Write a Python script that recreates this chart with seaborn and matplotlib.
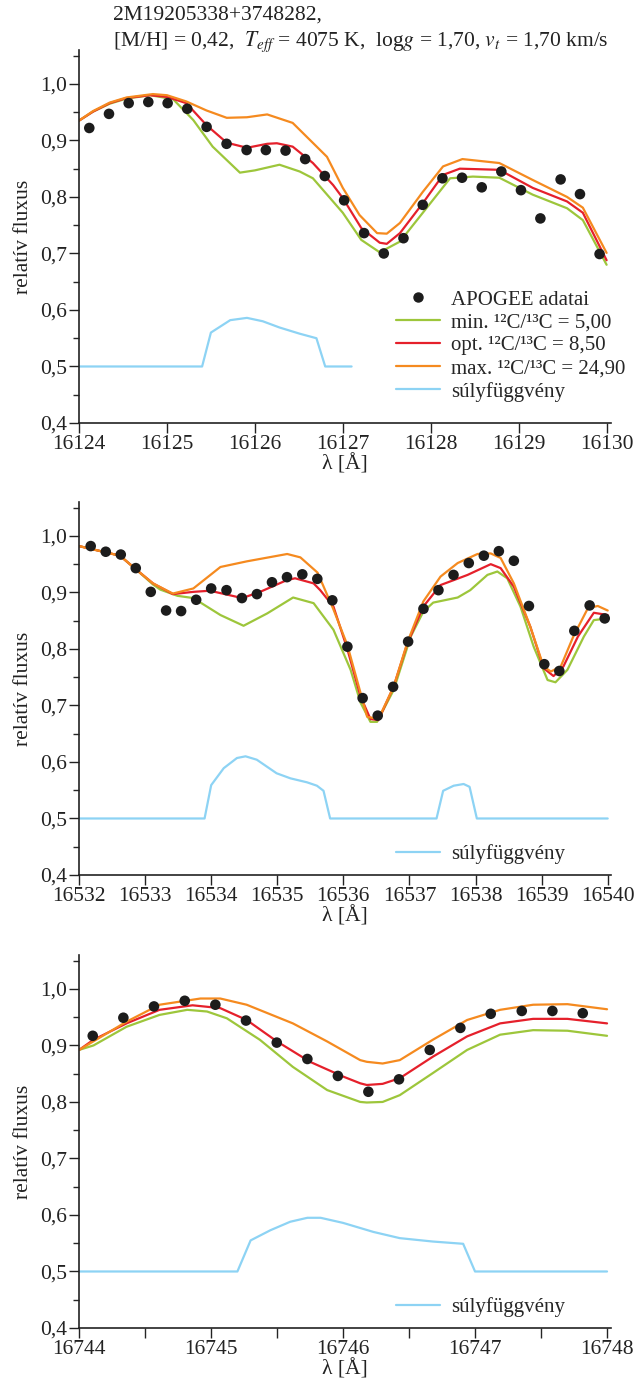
import numpy as np
import pandas as pd
import matplotlib
matplotlib.use("Agg")
import matplotlib.pyplot as plt
import seaborn as sns
from matplotlib.ticker import MultipleLocator, FuncFormatter, FixedLocator
from matplotlib.lines import Line2D

sns.set_style("ticks")
plt.rcParams['font.family'] = ['Liberation Serif', 'DejaVu Serif']
plt.rcParams['mathtext.fontset'] = 'stix'

# ---------------- Panel 1 ----------------
p1_obs_wl = [16124.117, 16124.341, 16124.565, 16124.788, 16125.008, 16125.231, 16125.451,
             16125.678, 16125.906, 16126.125, 16126.349, 16126.572, 16126.795, 16127.015,
             16127.242, 16127.466, 16127.690, 16127.909, 16128.133, 16128.356, 16128.580,
             16128.803, 16129.026, 16129.247, 16129.477, 16129.697, 16129.920]
p1_obs_fl = [0.922, 0.947, 0.966, 0.968, 0.966, 0.956, 0.924,
             0.894, 0.883, 0.883, 0.882, 0.867, 0.837, 0.794,
             0.736, 0.700, 0.727, 0.786, 0.833, 0.834, 0.817,
             0.845, 0.812, 0.762, 0.831, 0.805, 0.699]

p1_min_wl = [16124.00, 16124.16, 16124.35, 16124.54, 16124.81, 16125.07, 16125.30, 16125.52,
             16125.83, 16126.00, 16126.28, 16126.51, 16126.66, 16127.00, 16127.21, 16127.42,
             16127.65, 16127.91, 16128.22, 16128.48, 16128.78, 16129.16, 16129.55, 16129.73, 16130.00]
p1_min_fl = [0.935, 0.951, 0.965, 0.974, 0.980, 0.973, 0.936, 0.889,
             0.843, 0.847, 0.857, 0.845, 0.833, 0.772, 0.724, 0.702,
             0.721, 0.772, 0.833, 0.836, 0.834, 0.804, 0.780, 0.759, 0.680]

p1_opt_wl = [16124.00, 16124.16, 16124.35, 16124.54, 16124.81, 16125.00, 16125.22, 16125.45,
             16125.68, 16125.91, 16126.14, 16126.25, 16126.43, 16126.66, 16126.89, 16127.00,
             16127.21, 16127.42, 16127.50, 16127.65, 16127.91, 16128.14, 16128.33, 16128.78,
             16129.16, 16129.55, 16129.73, 16130.00]
p1_opt_fl = [0.935, 0.951, 0.966, 0.975, 0.980, 0.977, 0.966, 0.927,
             0.896, 0.887, 0.894, 0.895, 0.889, 0.860, 0.821, 0.798,
             0.745, 0.719, 0.717, 0.736, 0.789, 0.839, 0.850, 0.848,
             0.816, 0.792, 0.772, 0.688]

p1_max_wl = [16124.00, 16124.16, 16124.35, 16124.54, 16124.84, 16125.00, 16125.22, 16125.45,
             16125.68, 16125.91, 16126.14, 16126.43, 16126.82, 16127.00, 16127.19, 16127.39,
             16127.50, 16127.65, 16127.91, 16128.14, 16128.36, 16128.78, 16129.16, 16129.55,
             16129.73, 16130.00]
p1_max_fl = [0.935, 0.952, 0.967, 0.976, 0.982, 0.980, 0.969, 0.953,
             0.940, 0.941, 0.946, 0.931, 0.871, 0.816, 0.768, 0.736,
             0.735, 0.754, 0.809, 0.854, 0.867, 0.860, 0.830, 0.800,
             0.781, 0.701]

p1_w_wl = [16124.00, 16125.40, 16125.50, 16125.72, 16125.91, 16126.09, 16126.28, 16126.51,
           16126.70, 16126.80, 16127.10]
p1_w_fl = [0.500, 0.500, 0.560, 0.582, 0.586, 0.580, 0.569, 0.558, 0.550, 0.500, 0.500]

# ---------------- Panel 2 ----------------
p2_obs_wl = [16532.177, 16532.405, 16532.632, 16532.859, 16533.086, 16533.318, 16533.545,
             16533.773, 16534.000, 16534.232, 16534.465, 16534.692, 16534.920, 16535.147,
             16535.379, 16535.606, 16535.833, 16536.061, 16536.292, 16536.520, 16536.753,
             16536.980, 16537.212, 16537.439, 16537.667, 16537.898, 16538.126, 16538.353,
             16538.580, 16538.808, 16539.041, 16539.268, 16539.495, 16539.727, 16539.955]
p2_obs_fl = [0.982, 0.972, 0.967, 0.943, 0.901, 0.868, 0.867,
             0.887, 0.907, 0.904, 0.890, 0.897, 0.918, 0.927,
             0.932, 0.924, 0.886, 0.804, 0.713, 0.682, 0.733,
             0.813, 0.871, 0.904, 0.931, 0.952, 0.965, 0.973,
             0.956, 0.876, 0.773, 0.761, 0.832, 0.877, 0.854]

p2_min_wl = [16532.00, 16532.62, 16532.87, 16533.12, 16533.23, 16533.49, 16533.73, 16534.14,
             16534.49, 16534.85, 16535.24, 16535.55, 16535.85, 16536.11, 16536.26, 16536.41,
             16536.51, 16536.76, 16537.02, 16537.21, 16537.36, 16537.73, 16537.92, 16538.18,
             16538.33, 16538.48, 16538.68, 16538.88, 16539.09, 16539.21, 16539.39, 16539.64,
             16539.79, 16540.00]
p2_min_fl = [0.982, 0.965, 0.940, 0.914, 0.905, 0.894, 0.890, 0.860,
             0.841, 0.863, 0.891, 0.881, 0.834, 0.763, 0.705, 0.671,
             0.671, 0.727, 0.822, 0.866, 0.882, 0.891, 0.904, 0.931,
             0.937, 0.925, 0.875, 0.804, 0.745, 0.741, 0.763, 0.822,
             0.851, 0.854]

p2_opt_wl = [16532.00, 16532.62, 16532.87, 16533.12, 16533.42, 16533.73, 16533.98, 16534.47,
             16534.74, 16535.15, 16535.27, 16535.55, 16535.65, 16535.85, 16536.06, 16536.26,
             16536.41, 16536.53, 16536.76, 16536.97, 16537.21, 16537.47, 16537.88, 16538.23,
             16538.38, 16538.58, 16538.83, 16539.03, 16539.18, 16539.33, 16539.55, 16539.79,
             16540.00]
p2_opt_fl = [0.982, 0.965, 0.940, 0.916, 0.897, 0.901, 0.903, 0.890,
             0.901, 0.922, 0.925, 0.916, 0.904, 0.875, 0.800, 0.716,
             0.676, 0.674, 0.733, 0.810, 0.875, 0.913, 0.931, 0.950,
             0.943, 0.910, 0.839, 0.766, 0.752, 0.769, 0.822, 0.864,
             0.860]

p2_max_wl = [16532.00, 16532.62, 16532.87, 16533.12, 16533.42, 16533.73, 16534.14, 16534.54,
             16535.15, 16535.35, 16535.61, 16535.85, 16536.06, 16536.36, 16536.53, 16536.76,
             16536.97, 16537.21, 16537.47, 16537.73, 16538.03, 16538.23, 16538.38, 16538.58,
             16538.83, 16539.03, 16539.14, 16539.29, 16539.48, 16539.70, 16539.85, 16540.00]
p2_max_fl = [0.982, 0.965, 0.940, 0.916, 0.898, 0.907, 0.945, 0.955,
             0.968, 0.962, 0.935, 0.870, 0.807, 0.680, 0.676, 0.733,
             0.812, 0.884, 0.928, 0.952, 0.968, 0.969, 0.961, 0.916,
             0.839, 0.769, 0.760, 0.769, 0.822, 0.872, 0.876, 0.868]

p2_w_wl = [16532.00, 16533.90, 16534.00, 16534.19, 16534.39, 16534.52, 16534.69, 16534.99,
           16535.20, 16535.45, 16535.60, 16535.70, 16535.80, 16537.41, 16537.51, 16537.67,
           16537.82, 16537.91, 16538.02, 16540.00]
p2_w_fl = [0.500, 0.500, 0.559, 0.589, 0.607, 0.610, 0.604, 0.580,
           0.571, 0.564, 0.558, 0.549, 0.500, 0.500, 0.549, 0.558,
           0.561, 0.556, 0.500, 0.500]

# ---------------- Panel 3 ----------------
p3_obs_wl = [16744.104, 16744.336, 16744.568, 16744.801, 16745.033, 16745.265, 16745.498,
             16745.730, 16745.961, 16746.192, 16746.424, 16746.657, 16746.889, 16747.119,
             16747.354, 16747.586, 16747.816]
p3_obs_fl = [0.917, 0.949, 0.969, 0.979, 0.972, 0.944, 0.905,
             0.876, 0.846, 0.818, 0.840, 0.892, 0.931, 0.956,
             0.961, 0.961, 0.957]

p3_min_wl = [16744.00, 16744.11, 16744.36, 16744.61, 16744.82, 16744.97, 16745.12, 16745.37,
             16745.62, 16745.88, 16746.13, 16746.18, 16746.30, 16746.43, 16746.68, 16746.94,
             16747.19, 16747.44, 16747.70, 16748.00]
p3_min_fl = [0.892, 0.900, 0.933, 0.954, 0.963, 0.960, 0.948, 0.910,
             0.862, 0.821, 0.800, 0.799, 0.800, 0.812, 0.851, 0.892,
             0.919, 0.927, 0.926, 0.917]

p3_opt_wl = [16744.00, 16744.11, 16744.36, 16744.61, 16744.86, 16745.07, 16745.27, 16745.50,
             16745.75, 16746.00, 16746.13, 16746.18, 16746.30, 16746.43, 16746.68, 16746.94,
             16747.19, 16747.44, 16747.70, 16748.00]
p3_opt_fl = [0.892, 0.910, 0.939, 0.963, 0.971, 0.966, 0.945, 0.907,
             0.871, 0.845, 0.833, 0.830, 0.832, 0.842, 0.880, 0.916,
             0.939, 0.947, 0.947, 0.939]

p3_max_wl = [16744.00, 16744.36, 16744.61, 16744.92, 16745.07, 16745.27, 16745.62, 16745.88,
             16746.13, 16746.18, 16746.30, 16746.43, 16746.68, 16746.94, 16747.19, 16747.44,
             16747.70, 16748.00]
p3_max_fl = [0.892, 0.942, 0.972, 0.983, 0.983, 0.972, 0.939, 0.907,
             0.874, 0.871, 0.868, 0.874, 0.910, 0.945, 0.963, 0.972,
             0.973, 0.964]

p3_w_wl = [16744.00, 16745.20, 16745.30, 16745.45, 16745.60, 16745.73, 16745.83, 16746.00,
           16746.23, 16746.43, 16746.68, 16746.91, 16747.00, 16748.00]
p3_w_fl = [0.500, 0.500, 0.555, 0.573, 0.588, 0.595, 0.595, 0.586,
           0.570, 0.559, 0.553, 0.549, 0.500, 0.500]

x_ranges = [(16124, 16130.05), (16532, 16540.05), (16744, 16748.03)]

title_line1 = "2M19205338+3748282,"
title_line2 = (r"[M/H] = 0,42,  $T_{eff}$ = 4075 K,  log$g$ = 1,70, "
               r"$v_t$ = 1,70 km/s")
lbl_obs = "APOGEE adatai"
lbl_min = "min. ¹²C/¹³C = 5,00"
lbl_opt = "opt. ¹²C/¹³C = 8,50"
lbl_max = "max. ¹²C/¹³C = 24,90"
lbl_w = "súlyfüggvény"
ylab = "relatív fluxus"
xlab = "λ [Å]"

C_GREEN = "#9DC63B"
C_RED = "#E5202B"
C_ORANGE = "#F58A1F"
C_BLUE = "#8DD3F4"
C_DOT = "#1c1c1c"
C_TXT = "#222222"

panels = [
    (p1_obs_wl, p1_obs_fl, p1_min_wl, p1_min_fl, p1_opt_wl, p1_opt_fl, p1_max_wl, p1_max_fl, p1_w_wl, p1_w_fl),
    (p2_obs_wl, p2_obs_fl, p2_min_wl, p2_min_fl, p2_opt_wl, p2_opt_fl, p2_max_wl, p2_max_fl, p2_w_wl, p2_w_fl),
    (p3_obs_wl, p3_obs_fl, p3_min_wl, p3_min_fl, p3_opt_wl, p3_opt_fl, p3_max_wl, p3_max_fl, p3_w_wl, p3_w_fl),
]

W, H = 637, 1386
fig = plt.figure(figsize=(W / 100, H / 100), dpi=100)
bottoms_px = [423, 875, 1328]
left_px, right_px = 79, 611
ax_h_px = 373

FS = 15.5
LFS = 15
for i, (ow, of, mw, mf, pw, pf, xw, xf, ww, wf) in enumerate(panels):
    b = bottoms_px[i]
    ax = fig.add_axes([left_px / W, 1 - b / H, (right_px - left_px) / W, ax_h_px / H])
    lw = 1.6
    sns.lineplot(x=ww, y=wf, ax=ax, color=C_BLUE, lw=lw, label=lbl_w if i > 0 else "_w", sort=False)
    sns.lineplot(x=mw, y=mf, ax=ax, color=C_GREEN, lw=lw, label="_min", sort=False)
    sns.lineplot(x=pw, y=pf, ax=ax, color=C_RED, lw=lw, label="_opt", sort=False)
    sns.lineplot(x=xw, y=xf, ax=ax, color=C_ORANGE, lw=lw, label="_max", sort=False)
    sns.scatterplot(x=ow, y=of, ax=ax, color=C_DOT, s=58, edgecolor="none", zorder=5, label="_obs")
    leg_x = (396 - left_px) / (right_px - left_px)
    if i == 0:
        handles = [
            Line2D([], [], ls="none", marker="o", color=C_DOT, markersize=6.5),
            Line2D([], [], color=C_GREEN, lw=lw),
            Line2D([], [], color=C_RED, lw=lw),
            Line2D([], [], color=C_ORANGE, lw=lw),
            Line2D([], [], color=C_BLUE, lw=lw),
        ]
        ax.legend(handles, [lbl_obs, lbl_min, lbl_opt, lbl_max, lbl_w],
                  loc="upper left", bbox_to_anchor=(leg_x, 1 - (290 - 50) / ax_h_px),
                  frameon=False, fontsize=LFS, handlelength=2.1, handletextpad=0.55,
                  labelspacing=0.16, borderaxespad=0, borderpad=0)
    else:
        ax.legend(loc="upper left",
                  bbox_to_anchor=(leg_x, 1 - (342 - 0) / ax_h_px),
                  frameon=False, fontsize=LFS, handlelength=2.1, handletextpad=0.55,
                  borderaxespad=0, borderpad=0)
    ax.set_xlim(*x_ranges[i])
    ax.set_ylim(0.4, 1.06)
    ax.yaxis.set_major_locator(FixedLocator([0.4, 0.5, 0.6, 0.7, 0.8, 0.9, 1.0]))
    ax.yaxis.set_minor_locator(MultipleLocator(0.05))
    ax.yaxis.set_major_formatter(FuncFormatter(lambda v, p: f"{v:.1f}".replace(".", ",")))
    lo = int(round(x_ranges[i][0]))
    hi = int(np.floor(x_ranges[i][1]))
    ax.xaxis.set_major_locator(FixedLocator(list(range(lo, hi + 1))))
    ax.xaxis.set_major_formatter(FuncFormatter(lambda v, p: f"{v:.0f}"))
    if i == 2:
        ax.xaxis.set_minor_locator(FixedLocator([lo + 0.5 + k for k in range(hi - lo)]))
        ax.tick_params(axis="x", which="minor", length=7, width=1.0, direction="out")
    ax.tick_params(axis="both", which="major", length=7, width=1.0, direction="out",
                   labelsize=FS, colors=C_TXT, pad=1.5)
    ax.tick_params(axis="y", which="minor", length=4, width=1.0, direction="out")
    sns.despine(ax=ax)
    for s in ["left", "bottom"]:
        ax.spines[s].set_linewidth(1.2)
        ax.spines[s].set_color(C_TXT)
    ax.set_ylabel(ylab, fontsize=FS, color=C_TXT, labelpad=5)
    ax.set_xlabel(xlab, fontsize=FS, color=C_TXT, labelpad=0)

fig.text(113 / W, 1 - 15 / H, title_line1, fontsize=FS, va="center", ha="left", color=C_TXT)
fig.text(113 / W, 1 - 42 / H, title_line2, fontsize=FS, va="center", ha="left", color=C_TXT)

fig.savefig("out.png", dpi=100)
